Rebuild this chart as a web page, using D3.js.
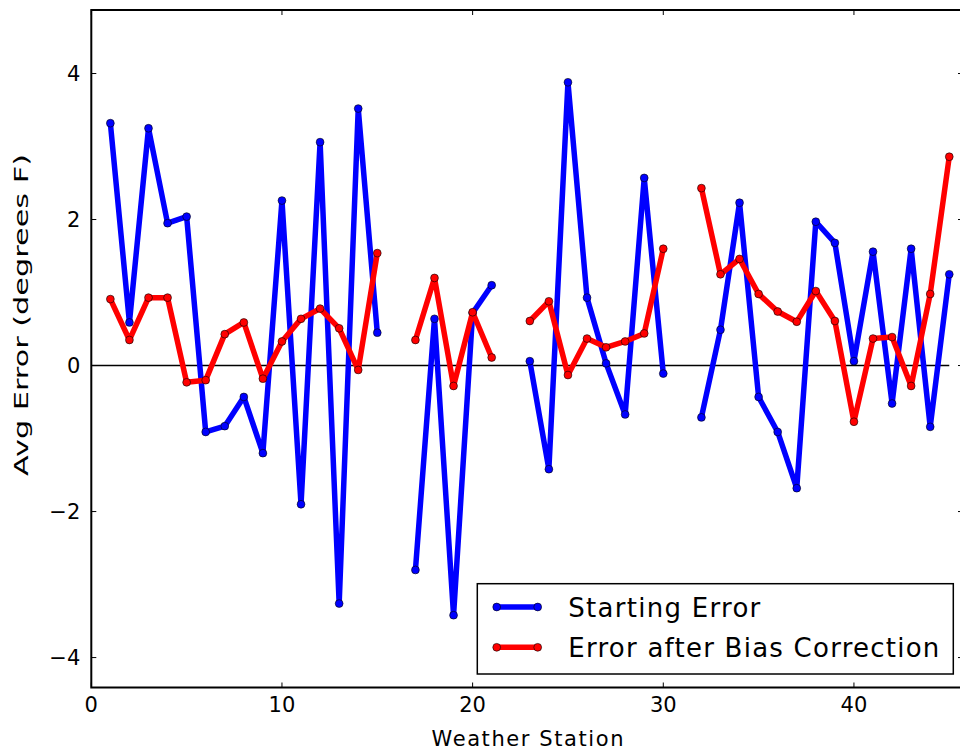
<!DOCTYPE html>
<html>
<head>
<meta charset="utf-8">
<script src="https://cdn.jsdelivr.net/npm/d3@7"></script>
<style>
  body { margin: 0; background: #fff; }
  svg { display: block; font-family: "DejaVu Sans", sans-serif; }
</style>
</head>
<body>
<div id="chart"></div>
<script>
// station numbers, with null gaps where no station was plotted
const stations = [1,2,3,4,5,6,7,8,9,10,11,12,13,14,15,16,17,18,19,20,21,22,23,24,25,26,27,28,29,30,31,32,33,34,35,36,37,38,39,40,41,42,43,44,45]
const startErr = [3.32,0.59,3.25,1.95,2.04,-0.91,-0.83,-0.43,-1.20,2.26,-1.90,3.06,-3.26,3.52,0.45,null,
  -2.80,0.64,-3.42,0.72,1.10,null,
  0.06,-1.42,3.88,0.93,0.03,-0.67,2.57,-0.11,null,
  -0.71,0.49,2.23,-0.43,-0.91,-1.68,1.97,1.68,0.06,1.56,-0.52,1.60,-0.84,1.25]
const biasErr = [0.91,0.35,0.93,0.93,-0.23,-0.20,0.43,0.59,-0.18,0.33,0.64,0.78,0.51,-0.06,1.54,null,
  0.35,1.20,-0.28,0.73,0.11,null,
  0.61,0.88,-0.13,0.37,0.25,0.33,0.44,1.60,null,
  2.43,1.25,1.46,0.98,0.74,0.60,1.02,0.61,-0.77,0.37,0.39,-0.28,0.98,2.86]
const xTicks = [0,10,20,30,40]
const yTicks = [-4,-2,0,2,4]
const seriesNames = ["Starting Error", "Error after Bias Correction"]
const seriesColors = ["#0000ff", "#ff0000"]

const W = 960, H = 749
const margin = {top: 10, right: -3, bottom: 61.5, left: 91.3}
const width = W - margin.left - margin.right
const height = H - margin.top - margin.bottom

var x = d3.scaleLinear().domain([0, 45.72]).range([0, width])
var y = d3.scaleLinear().domain([-4.41, 4.87]).range([height, 0])

var svg = d3.select("#chart").append("svg")
  .attr("width", W).attr("height", H)
  .append("g")
  .attr("transform", "translate(" + margin.left + "," + margin.top + ")")

// zero line
svg.append("line")
  .attr("x1", x(0)).attr("x2", x(45))
  .attr("y1", y(0)).attr("y2", y(0))
  .attr("stroke", "black").attr("stroke-width", 1.5)

function drawSeries(vals, color) {
  var pts = stations.map((s, i) => ({x: s, y: vals[i]}))
  svg.append("path")
    .datum(pts)
    .attr("fill", "none")
    .attr("stroke", color)
    .attr("stroke-width", 5.5)
    .attr("stroke-linejoin", "round")
    .attr("d", d3.line()
      .defined(d => d.y !== null)
      .x(d => x(d.x))
      .y(d => y(d.y)))
  svg.append("g").selectAll("circle")
    .data(pts.filter(d => d.y !== null))
    .join("circle")
    .attr("cx", d => x(d.x))
    .attr("cy", d => y(d.y))
    .attr("r", 3.9)
    .attr("fill", color)
    .attr("stroke", "black")
    .attr("stroke-width", 0.6)
}
drawSeries(startErr, seriesColors[0])
drawSeries(biasErr, seriesColors[1])

// ticks, inward on all four sides
const tickLen = 5
var ticks = svg.append("g").attr("stroke", "black").attr("stroke-width", 1)
xTicks.forEach(t => {
  ticks.append("line").attr("x1", x(t)).attr("x2", x(t)).attr("y1", height).attr("y2", height - tickLen)
  ticks.append("line").attr("x1", x(t)).attr("x2", x(t)).attr("y1", 0).attr("y2", tickLen)
})
yTicks.forEach(t => {
  ticks.append("line").attr("x1", 0).attr("x2", tickLen).attr("y1", y(t)).attr("y2", y(t))
  ticks.append("line").attr("x1", width).attr("x2", width - tickLen).attr("y1", y(t)).attr("y2", y(t))
})

// frame
svg.append("rect")
  .attr("x", 0).attr("y", 0)
  .attr("width", width).attr("height", height)
  .attr("fill", "none").attr("stroke", "black").attr("stroke-width", 2)

// tick labels
svg.append("g").selectAll("text")
  .data(xTicks).join("text")
  .attr("x", d => x(d)).attr("y", height + 24.5)
  .attr("text-anchor", "middle")
  .style("font-size", "21px")
  .text(d => d)
svg.append("g").selectAll("text")
  .data(yTicks).join("text")
  .attr("x", -11).attr("y", d => y(d) + 7.5)
  .attr("text-anchor", "end")
  .style("font-size", "21px")
  .text(d => d < 0 ? "\u2212" + Math.abs(d) : d)

// axis labels
svg.append("text")
  .attr("x", 527.5 - margin.left).attr("y", 745.5 - margin.top)
  .attr("text-anchor", "middle")
  .attr("textLength", 192).attr("lengthAdjust", "spacing")
  .style("font-size", "21px")
  .text("Weather Station")
svg.append("text")
  .attr("transform", "translate(" + (27.5 - margin.left) + "," + (315 - margin.top) + ") rotate(-90)")
  .attr("text-anchor", "middle")
  .attr("textLength", 322).attr("lengthAdjust", "spacingAndGlyphs")
  .style("font-size", "19px")
  .text("Avg Error (degrees F)")

// legend
var lg = svg.append("g").attr("transform", "translate(" + (477.3 - margin.left) + "," + (583.7 - margin.top) + ")")
lg.append("rect")
  .attr("width", 476).attr("height", 90.3)
  .attr("fill", "white").attr("stroke", "black").attr("stroke-width", 1.5)
const legendWidths = [192, 371]
seriesNames.forEach((name, i) => {
  var ly = 23.3 + i * 40.3
  lg.append("line")
    .attr("x1", 19.4).attr("x2", 60.4).attr("y1", ly).attr("y2", ly)
    .attr("stroke", seriesColors[i]).attr("stroke-width", 5.5)
  ;[19.4, 60.4].forEach(cx => lg.append("circle")
    .attr("cx", cx).attr("cy", ly).attr("r", 3.9)
    .attr("fill", seriesColors[i]).attr("stroke", "black").attr("stroke-width", 0.6))
  lg.append("text")
    .attr("x", 91).attr("y", ly + 10)
    .attr("textLength", legendWidths[i]).attr("lengthAdjust", "spacing")
    .style("font-size", "26px")
    .text(name)
})
</script>
</body>
</html>
